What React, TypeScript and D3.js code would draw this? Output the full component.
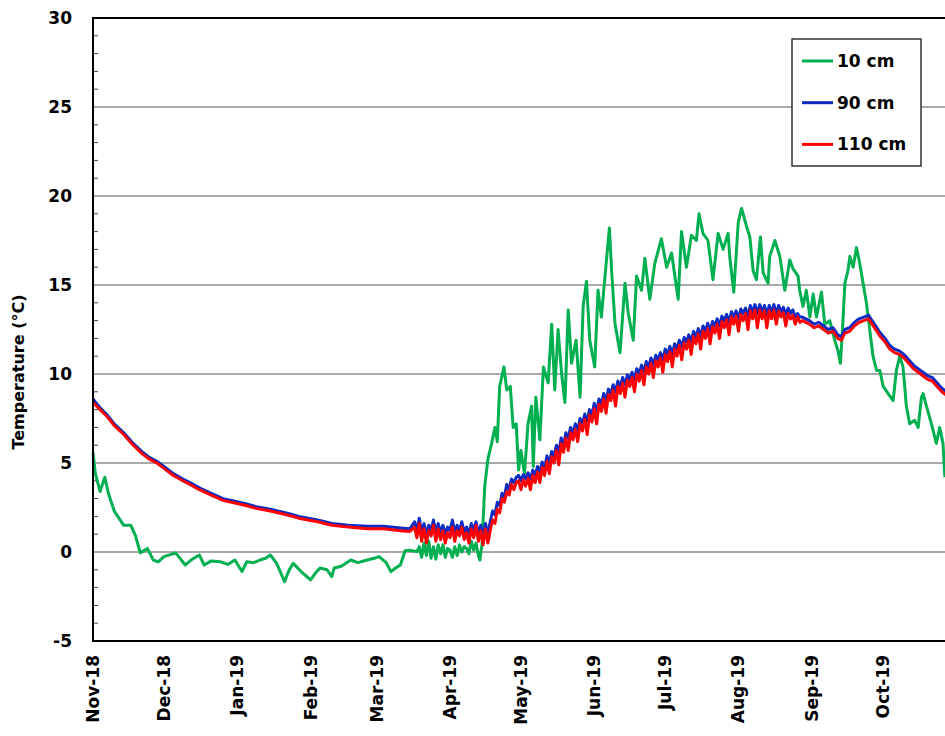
import React from 'react'
import * as d3 from 'd3'

// Soil temperature record, Nov 2018 - Oct 2019
const START = new Date(2018, 10, 1)
const END = new Date(2019, 10, 1)
const DAY_MS = 86400000

// 10 cm depth: [day since 1 Nov 2018, °C]
const temp10cm: [number, number][] = [
    [0, 5.6], [1, 4.4], [3, 3.4], [5, 4.2], [6.5, 3.3], [9, 2.3], [13, 1.5], [16, 1.5], [18, 0.9],
    [20, -0.05], [23, 0.2], [25.5, -0.45], [27.6, -0.55], [30, -0.26], [35, -0.05], [39, -0.73],
    [42, -0.4], [45, -0.17], [47, -0.73], [50, -0.5], [54, -0.55], [57, -0.7], [60, -0.45],
    [63, -1.1], [65, -0.55], [68, -0.6], [70.6, -0.45], [73, -0.35], [75, -0.17], [77.7, -0.64],
    [81, -1.67], [83, -1.0], [84.7, -0.64], [88, -1.1], [92, -1.57], [94, -1.2], [96, -0.9],
    [99, -1.0], [101, -1.38], [102, -0.9], [105, -0.8], [109, -0.45], [112, -0.6], [116, -0.45],
    [119, -0.35], [121, -0.26], [124, -0.6], [126, -1.1], [128, -0.9], [130, -0.73], [132, 0.07],
    [134, 0.1], [137, 0.02], [138, 0.3], [139, -0.3], [140, 0.5], [141, -0.2], [142, 0.6],
    [143, -0.35], [144, 0.3], [145, -0.4], [146, 0.4], [147, -0.1], [148, 0.4], [149, -0.3],
    [150, 0.2], [151, 0.1], [152, -0.3], [153, 0.3], [154, -0.2], [155, 0.4], [156, 0.0],
    [157, 0.3], [158, 0.2], [159, -0.1], [160, 0.6], [161, 0.1], [162, 0.5], [163, -0.2],
    [163.6, -0.45], [164.5, 0.4], [165.7, 3.7], [167, 5.2], [168.6, 6.1], [170, 7.0], [171, 6.2],
    [172, 9.3], [173.8, 10.4], [175, 9.1], [176.5, 9.3], [177.7, 7.0], [179, 7.2], [180, 4.6],
    [181, 5.7], [182.5, 4.4], [184, 7.2], [185.5, 8.2], [186.2, 4.8], [187.3, 8.7], [189, 6.3],
    [190.5, 10.4], [192.5, 9.5], [194, 12.8], [195.3, 9.1], [196.7, 12.5], [198.2, 10.0],
    [199.6, 8.4], [201, 13.6], [202.4, 10.6], [204.3, 11.9], [206, 8.7], [207.3, 13.8],
    [208.7, 15.2], [210.1, 11.9], [212.2, 10.4], [213.6, 14.7], [215, 13.2], [216.9, 16.0],
    [218.4, 18.2], [219.4, 15.7], [220.8, 12.8], [222.9, 11.2], [225, 15.1], [226.4, 13.4],
    [228.5, 11.9], [229.9, 15.5], [232, 14.7], [233.4, 16.5], [235.5, 14.2], [237.6, 16.2],
    [240.4, 17.6], [242.6, 16.0], [244.7, 16.8], [247.5, 14.2], [248.9, 18.0], [251, 16.0],
    [253.1, 17.8], [255.2, 17.5], [256.3, 19.0], [258, 17.9], [260.1, 17.5], [262.2, 15.3],
    [264.4, 17.9], [266.5, 17.0], [268.6, 17.9], [269.3, 16.6], [271, 14.6], [272.9, 18.5],
    [274.3, 19.3], [276.4, 18.3], [277.8, 17.7], [279.2, 15.8], [280.6, 15.3], [282.3, 17.7],
    [283.4, 15.7], [285.5, 15.1], [286.2, 16.6], [288.4, 17.5], [290.5, 16.6], [292.6, 14.7],
    [294.7, 16.4], [296.1, 15.9], [298.2, 15.5], [298.9, 14.7], [300.3, 13.8], [301.7, 14.7],
    [303.2, 13.2], [304.6, 14.5], [306, 13.2], [308.1, 14.6], [309.5, 12.8], [311.6, 13.0],
    [313.7, 11.9], [315.1, 11.3], [316.1, 10.6], [317, 12.5], [318, 15.1], [319.3, 15.8],
    [320.1, 16.6], [321.5, 16.0], [322.9, 17.1], [324.3, 16.2], [325.7, 15.1], [327.1, 14.0],
    [328.5, 12.5], [329.9, 11.0], [331.4, 10.2], [332.8, 10.2], [334.2, 9.3], [336.3, 8.9],
    [338.4, 8.5], [339.8, 10.2], [341.2, 11.0], [342.6, 10.4], [344, 8.2], [345.4, 7.2],
    [347.5, 7.4], [349, 7.0], [350.4, 8.7], [351.1, 8.9], [352.5, 8.2], [354.6, 7.2],
    [356.7, 6.1], [358.1, 7.0], [359.5, 6.1], [360.3, 4.2],
]

// 90 cm and 110 cm depth: [day, 90 cm °C, 110 cm °C]
const tempDeep: [number, number, number][] = [
    [0, 8.6, 8.4], [3, 8.1, 8.0], [6, 7.7, 7.6], [9, 7.2, 7.1], [13, 6.7, 6.6], [17, 6.1, 6.0],
    [21, 5.6, 5.5], [24, 5.3, 5.2], [27, 5.1, 5.0], [30, 4.8, 4.7], [34, 4.4, 4.3], [38, 4.1, 4.0],
    [41, 3.9, 3.8], [45, 3.6, 3.5], [50, 3.3, 3.2], [55, 3.0, 2.9], [60, 2.85, 2.75], [65, 2.7, 2.6],
    [69, 2.55, 2.45], [75, 2.4, 2.3], [80, 2.25, 2.15], [83, 2.15, 2.05], [87, 2.0, 1.9],
    [91, 1.9, 1.8], [95, 1.8, 1.7], [101, 1.6, 1.5], [108, 1.5, 1.4], [116, 1.45, 1.3],
    [123, 1.45, 1.3], [130, 1.35, 1.2], [134, 1.3, 1.15],
    [136, 1.7, 1.4], [137, 1.2, 0.8], [138, 1.9, 1.6], [139, 1.1, 0.6], [140, 1.6, 1.3],
    [141, 1.0, 0.5], [142, 1.5, 1.2], [143, 1.2, 0.9], [144, 1.8, 1.5], [145, 1.1, 0.6],
    [146, 1.6, 1.3], [147, 1.1, 0.7], [148, 1.5, 1.2], [149, 1.0, 0.5], [150, 1.4, 1.1],
    [151, 1.2, 0.8], [152, 1.8, 1.4], [153, 1.1, 0.6], [154, 1.5, 1.2], [155, 1.2, 0.9],
    [156, 1.7, 1.4], [157, 1.1, 0.7], [158, 1.4, 1.1], [159, 1.0, 0.5], [160, 1.6, 1.3],
    [161, 1.2, 0.8], [162, 1.7, 1.5], [163, 1.0, 0.6], [164, 1.5, 1.2], [165, 0.9, 0.4],
    [166, 1.6, 1.3], [167, 1.0, 0.5], [168, 1.7, 1.2],
    [169, 2.3, 1.8], [170, 2.1, 1.6], [171, 2.8, 2.4], [172, 2.6, 2.2], [173, 3.3, 3.0],
    [174, 3.1, 2.8], [175, 3.8, 3.4], [176, 3.5, 3.2], [177, 4.1, 3.8], [178, 3.9, 3.5],
    [179, 4.2, 3.9],
    [180, 4.3, 4.0], [181, 4.0, 3.5], [182, 4.35, 4.05], [183, 4.1, 3.7], [184, 4.45, 4.15],
    [185, 4.1, 3.5], [186, 4.6, 4.3], [187, 4.3, 3.9], [188, 4.8, 4.5], [189, 4.5, 3.9],
    [190, 5.05, 4.75], [191, 4.7, 4.3], [192, 5.4, 5.1], [193, 5.0, 4.4], [194, 5.65, 5.35],
    [195, 5.4, 5.0], [196, 6.0, 5.7], [197, 5.6, 4.9], [198, 6.4, 6.1], [199, 6.0, 5.6],
    [200, 6.7, 6.4], [201, 6.4, 5.7], [202, 7.0, 6.7], [203, 6.7, 6.3], [204, 7.2, 6.9],
    [205, 6.8, 6.2], [206, 7.5, 7.2], [207, 7.2, 6.8], [208, 7.75, 7.45], [209, 7.3, 6.6],
    [210, 8.0, 7.7], [211, 7.7, 7.3], [212, 8.35, 8.05], [213, 7.9, 7.2], [214, 8.6, 8.3],
    [215, 8.3, 7.9], [216, 8.9, 8.6], [217, 8.5, 7.8], [218, 9.15, 8.85], [219, 8.9, 8.5],
    [220, 9.4, 9.1], [221, 9.0, 8.2], [222, 9.6, 9.3], [223, 9.3, 8.9], [224, 9.8, 9.5],
    [225, 9.4, 8.7], [226, 9.95, 9.65], [227, 9.7, 9.3], [228, 10.1, 9.8], [229, 9.7, 9.0],
    [230, 10.3, 10.0], [231, 10.0, 9.6], [232, 10.5, 10.2], [233, 10.1, 9.4], [234, 10.7, 10.4],
    [235, 10.4, 10.0], [236, 10.9, 10.6], [237, 10.5, 9.8], [238, 11.05, 10.75], [239, 10.8, 10.4],
    [240, 11.2, 10.9], [241, 10.8, 10.1], [242, 11.4, 11.1], [243, 11.1, 10.7], [244, 11.55, 11.25],
    [245, 11.1, 10.4], [246, 11.7, 11.4], [247, 11.4, 11.0], [248, 11.9, 11.6], [249, 11.5, 10.8],
    [250, 12.05, 11.75], [251, 11.8, 11.4], [252, 12.2, 11.9], [253, 11.8, 11.1], [254, 12.4, 12.1],
    [255, 12.1, 11.7], [256, 12.55, 12.25], [257, 12.1, 11.4], [258, 12.7, 12.4], [259, 12.4, 12.0],
    [260, 12.85, 12.55], [261, 12.4, 11.7], [262, 12.95, 12.65], [263, 12.7, 12.3], [264, 13.1, 12.8],
    [265, 12.7, 12.0], [266, 13.25, 12.95], [267, 13.0, 12.6], [268, 13.35, 13.05], [269, 12.9, 12.2],
    [270, 13.5, 13.2], [271, 13.2, 12.8], [272, 13.55, 13.25], [273, 13.1, 12.4], [274, 13.65, 13.35],
    [275, 13.4, 13.0], [276, 13.7, 13.4], [277, 13.2, 12.5], [278, 13.85, 13.55], [279, 13.5, 13.1],
    [280, 13.9, 13.6], [281, 13.4, 12.6], [282, 13.9, 13.6], [283, 13.5, 13.1], [284, 13.85, 13.55],
    [285, 13.3, 12.6], [286, 13.85, 13.55], [287, 13.5, 13.1], [288, 13.9, 13.6], [289, 13.4, 12.8],
    [290, 13.85, 13.55], [291, 13.5, 13.2], [292, 13.75, 13.45], [293, 13.3, 12.7], [294, 13.7, 13.4],
    [295, 13.4, 13.1], [296, 13.6, 13.3], [297, 13.2, 12.8], [298, 13.4, 13.2], [299, 13.2, 12.9],
    [300, 13.2, 13.0], [303, 13.0, 12.8], [305, 12.8, 12.6], [307, 12.9, 12.7], [309, 12.7, 12.5],
    [311, 12.5, 12.3], [313, 12.6, 12.4], [315, 12.2, 12.0], [316.5, 12.1, 11.9], [318, 12.5, 12.3],
    [320, 12.6, 12.4], [322, 12.9, 12.7], [324, 13.1, 12.9], [326, 13.2, 13.0], [328, 13.3, 13.1],
    [329, 13.1, 12.9], [331, 12.7, 12.5], [333, 12.3, 12.1], [335, 12.0, 11.8], [337, 11.6, 11.4],
    [339, 11.4, 11.2], [341, 11.3, 11.1], [343, 11.1, 10.9], [345, 10.8, 10.6], [347, 10.5, 10.3],
    [349, 10.3, 10.1], [351, 10.1, 9.9], [353, 9.9, 9.7], [355, 9.8, 9.6], [357, 9.5, 9.3],
    [359, 9.2, 9.0], [361, 9.0, 8.8],
]

const yTicks = [-5, 0, 5, 10, 15, 20, 25, 30]

const legendItems = [
    { label: '10 cm', color: '#00b050' },
    { label: '90 cm', color: '#0a2bc4' },
    { label: '110 cm', color: '#ff0000' },
]

const FONT = '"DejaVu Sans", Verdana, sans-serif'

export default function App() {
    const width = 945
    const height = 736
    const plot = { left: 93, right: 956, top: 18, bottom: 641 }

    const toDate = (d: number) => new Date(START.getTime() + d * DAY_MS)

    const x = d3.scaleTime().domain([START, END]).range([plot.left, plot.right])
    const y = d3.scaleLinear().domain([-5, 30]).range([plot.bottom, plot.top])

    const months = d3.timeMonth.range(START, END)
    const minorTicks = d3.range(-4, 30, 1).filter(v => v % 5 !== 0)
    const fmt = d3.timeFormat('%b-%y')

    const line = d3.line<[number, number]>()
        .x(d => x(toDate(d[0])))
        .y(d => y(d[1]))

    const path10 = line(temp10cm) || ''
    const path90 = line(tempDeep.map(d => [d[0], d[1]] as [number, number])) || ''
    const path110 = line(tempDeep.map(d => [d[0], d[2]] as [number, number])) || ''

    return (
        <svg width={width} height={height} style={{ position: 'absolute', left: 0, top: 0, background: '#fff' }}
            fontFamily={FONT}>
            <rect x={0} y={0} width={width} height={height} fill="#fff" />

            {/* gridlines */}
            {yTicks.filter(v => v > -5 && v < 30).map(v => (
                <line key={'g' + v} x1={plot.left} x2={plot.right} y1={y(v)} y2={y(v)}
                    stroke="#555" strokeWidth={1.2} />
            ))}

            {/* minor ticks inside the y axis */}
            {minorTicks.map(v => (
                <line key={'m' + v} x1={plot.left} x2={plot.left + 5} y1={y(v)} y2={y(v)}
                    stroke="#444" strokeWidth={1} />
            ))}

            {/* series */}
            <path d={path10} fill="none" stroke={legendItems[0].color} strokeWidth={3} strokeLinejoin="round" />
            <path d={path90} fill="none" stroke={legendItems[1].color} strokeWidth={3} strokeLinejoin="round" />
            <path d={path110} fill="none" stroke={legendItems[2].color} strokeWidth={3} strokeLinejoin="round" />

            {/* frame */}
            <line x1={plot.left} x2={plot.right} y1={plot.top} y2={plot.top} stroke="#000" strokeWidth={2} />
            <line x1={plot.left} x2={plot.right} y1={plot.bottom} y2={plot.bottom} stroke="#000" strokeWidth={2} />
            <line x1={plot.left} x2={plot.left} y1={plot.top - 1} y2={plot.bottom + 1} stroke="#000" strokeWidth={2} />

            {/* y tick labels */}
            {yTicks.map(v => (
                <text key={'yl' + v} x={72} y={y(v)} textAnchor="end" dominantBaseline="central"
                    fontSize={17} fontWeight="bold" fill="#000">{v}</text>
            ))}

            {/* x tick labels */}
            {months.map(m => (
                <text key={'xl' + m.getTime()} transform={`translate(${x(m)},655) rotate(-90)`}
                    textAnchor="end" dominantBaseline="central" fontSize={17} fontWeight="bold" fill="#000">
                    {fmt(m)}
                </text>
            ))}

            {/* y title */}
            <text transform="translate(18,372) rotate(-90)" textAnchor="middle" dominantBaseline="central"
                fontSize={16} fontWeight="bold" fill="#000">Temperature (°C)</text>

            {/* legend */}
            <rect x={792} y={39} width={129} height={127} fill="#fff" stroke="#333" strokeWidth={1.5} />
            {legendItems.map((item, i) => {
                const ly = 61 + i * 41.7
                return (
                    <g key={item.label}>
                        <line x1={802} x2={833} y1={ly} y2={ly} stroke={item.color} strokeWidth={3} />
                        <text x={837} y={ly} dominantBaseline="central" fontSize={17} fontWeight="bold" fill="#000">
                            {item.label}
                        </text>
                    </g>
                )
            })}
        </svg>
    )
}
